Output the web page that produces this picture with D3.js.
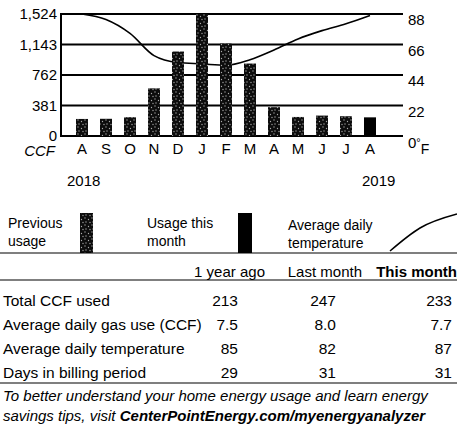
<!DOCTYPE html>
<html>
<head>
<meta charset="utf-8">
<script src="https://cdn.jsdelivr.net/npm/d3@7"></script>
<style>
  body { margin: 0; background: #fff; }
  svg { display: block; font-family: "Liberation Sans", Arial, sans-serif; }
</style>
</head>
<body>
<svg width="457" height="434"></svg>
<script>
var months = ["A", "S", "O", "N", "D", "J", "F", "M", "A", "M", "J", "J", "A"];
var usage = [213, 215, 235, 595, 1055, 1524, 1155, 905, 360, 238, 255, 247, 233];
var temps = [88, 84, 74, 58, 53, 52, 51, 55, 62, 70, 76, 81, 87];
var ccfTicks = [0, 381, 762, 1143, 1524];
var tempTicks = [0, 22, 44, 66, 88];

var rowLabels = ["Total CCF used", "Average daily gas use (CCF)", "Average daily temperature", "Days in billing period"];
var yearAgo = ["213", "7.5", "85", "29"];
var lastMonth = ["247", "8.0", "82", "31"];
var thisMonth = ["233", "7.7", "87", "31"];

var svg = d3.select("svg");

var defs = svg.append("defs");
var pat = defs.append("pattern")
    .attr("id", "stipple")
    .attr("patternUnits", "userSpaceOnUse")
    .attr("width", 7).attr("height", 7);
pat.append("rect").attr("width", 7).attr("height", 7).attr("fill", "#0c0c0c");
[[1, 1], [4.5, 2.5], [2, 5], [6, 5.5]].forEach(function (p) {
    pat.append("circle").attr("cx", p[0]).attr("cy", p[1]).attr("r", 0.65).attr("fill", "#aaa");
});

var x = d3.scaleBand().domain(d3.range(months.length))
    .range([70, 382]).paddingInner(0.5).paddingOuter(0.25);
var y = d3.scaleLinear().domain([0, 1524]).range([136, 14]);
var yT = d3.scaleLinear().domain([0, 88]).range([136, 14]);

var plotLeft = 61, plotRight = 403;

// gridlines
svg.append("g").selectAll("line")
    .data(ccfTicks)
    .enter().append("line")
    .attr("x1", plotLeft).attr("x2", plotRight)
    .attr("y1", function (d) { return y(d); })
    .attr("y2", function (d) { return y(d); })
    .attr("stroke", "#000")
    .attr("stroke-width", 2);

svg.append("line")
    .attr("x1", plotLeft).attr("x2", plotLeft)
    .attr("y1", y(1524) - 1).attr("y2", y(0) + 1)
    .attr("stroke", "#000").attr("stroke-width", 2);

// temperature line (behind bars)
var line = d3.line()
    .x(function (d, i) { return x(i) + x.bandwidth() / 2; })
    .y(function (d) { return yT(d); })
    .curve(d3.curveMonotoneX);

svg.append("path")
    .datum(temps)
    .attr("d", line)
    .attr("fill", "none")
    .attr("stroke", "#000")
    .attr("stroke-width", 1.6);

// bars
svg.append("g").selectAll("rect")
    .data(usage)
    .enter().append("rect")
    .attr("x", function (d, i) { return x(i); })
    .attr("y", function (d) { return y(d); })
    .attr("width", x.bandwidth())
    .attr("height", function (d) { return y(0) - y(d); })
    .attr("fill", function (d, i) { return i === usage.length - 1 ? "#000" : "url(#stipple)"; });

// left axis labels
svg.append("g").selectAll("text")
    .data(ccfTicks)
    .enter().append("text")
    .attr("x", 57)
    .attr("y", function (d) { return y(d) + 5; })
    .attr("text-anchor", "end")
    .attr("font-size", 15)
    .text(function (d) { return d3.format(",")(d); });

svg.append("text")
    .attr("x", 55).attr("y", 156)
    .attr("text-anchor", "end")
    .attr("font-size", 15)
    .attr("font-style", "italic")
    .text("CCF");

// right axis labels
svg.append("g").selectAll("text")
    .data(tempTicks.filter(function (d) { return d > 0; }))
    .enter().append("text")
    .attr("x", 408)
    .attr("y", function (d) { return yT(d) + 11; })
    .attr("font-size", 15)
    .text(function (d) { return d; });

var zeroF = svg.append("text")
    .attr("x", 408).attr("y", yT(0) + 12)
    .attr("font-size", 15)
    .text("0");
zeroF.append("tspan").attr("font-size", 11).attr("dy", -2).text("°");
zeroF.append("tspan").attr("font-size", 14).attr("dy", 8).text("F");

// month labels
svg.append("g").selectAll("text")
    .data(months)
    .enter().append("text")
    .attr("x", function (d, i) { return x(i) + x.bandwidth() / 2; })
    .attr("y", 154)
    .attr("text-anchor", "middle")
    .attr("font-size", 15)
    .text(function (d) { return d; });

svg.append("text").attr("x", 67).attr("y", 186).attr("font-size", 15).text("2018");
svg.append("text").attr("x", 362).attr("y", 186).attr("font-size", 15).text("2019");

// legend
var legend = svg.append("g").attr("font-size", 14);
[["Previous", "usage", 8], ["Usage this", "month", 147], ["Average daily", "temperature", 288]].forEach(function (l, i) {
    legend.append("text").attr("x", l[2]).attr("y", i === 2 ? 230 : 228).text(l[0]);
    legend.append("text").attr("x", l[2]).attr("y", i === 2 ? 248 : 246).text(l[1]);
});
legend.append("rect").attr("x", 80).attr("y", 213).attr("width", 13).attr("height", 40).attr("fill", "url(#stipple)");
legend.append("rect").attr("x", 238).attr("y", 213).attr("width", 14).attr("height", 40).attr("fill", "#000");
var legendLine = [[390, 251], [420, 228], [457, 214]];
legend.append("path")
    .attr("d", d3.line().curve(d3.curveMonotoneX)(legendLine))
    .attr("fill", "none").attr("stroke", "#000").attr("stroke-width", 1.5);

svg.append("line").attr("x1", 0).attr("x2", 457).attr("y1", 253).attr("y2", 253)
    .attr("stroke", "#000").attr("stroke-width", 1.2);

// table
var table = svg.append("g").attr("font-size", 15.5);
var colRight = [238, 336, 452];
var headers = ["1 year ago", "Last month", "This month"];
var headerRight = [265, 362, 457];
headers.forEach(function (h, i) {
    table.append("text")
        .attr("x", headerRight[i]).attr("y", 277)
        .attr("text-anchor", "end")
        .attr("font-size", 15)
        .attr("font-weight", i === 2 ? "bold" : "normal")
        .text(h);
});
svg.append("line").attr("x1", 0).attr("x2", 457).attr("y1", 280).attr("y2", 280)
    .attr("stroke", "#000").attr("stroke-width", 1.2);

var rowY = d3.scalePoint().domain(d3.range(rowLabels.length)).range([306, 378]);
[yearAgo, lastMonth, thisMonth].forEach(function (col, c) {
    table.append("g").selectAll("text")
        .data(col)
        .enter().append("text")
        .attr("x", colRight[c])
        .attr("y", function (d, i) { return rowY(i); })
        .attr("text-anchor", "end")
        .text(function (d) { return d; });
});
table.append("g").selectAll("text")
    .data(rowLabels)
    .enter().append("text")
    .attr("x", 3)
    .attr("y", function (d, i) { return rowY(i); })
    .text(function (d) { return d; });

svg.append("line").attr("x1", 0).attr("x2", 457).attr("y1", 383).attr("y2", 383)
    .attr("stroke", "#000").attr("stroke-width", 1.2);

// footer
var foot = svg.append("g").attr("font-size", 15).attr("font-style", "italic");
foot.append("text").attr("x", 3).attr("y", 401)
    .text("To better understand your home energy usage and learn energy");
var f2 = foot.append("text").attr("x", 3).attr("y", 421);
f2.append("tspan").text("savings tips, visit ");
f2.append("tspan").attr("font-weight", "bold").text("CenterPointEnergy.com/myenergyanalyzer");
</script>
</body>
</html>
